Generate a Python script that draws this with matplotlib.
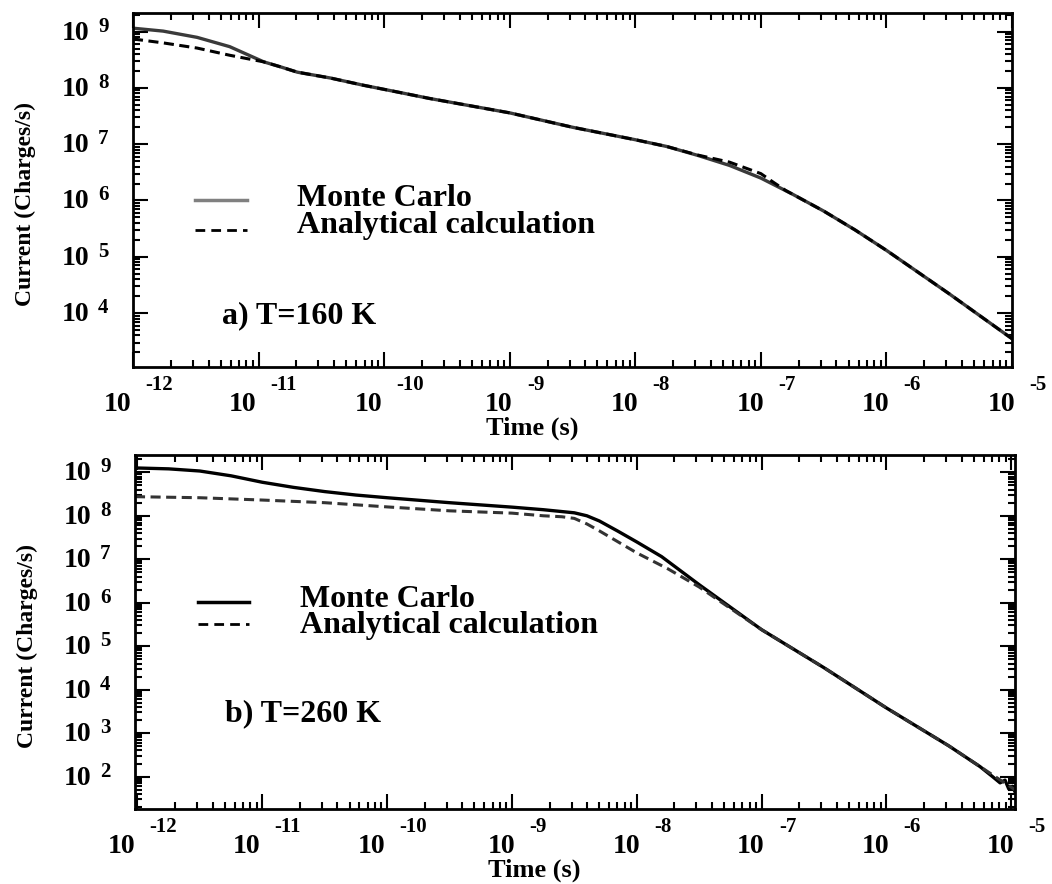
import numpy as np
import matplotlib
matplotlib.use("Agg")
from matplotlib import pyplot as plt
from matplotlib.lines import Line2D
from matplotlib.ticker import LogLocator, NullFormatter

plt.rcParams['font.family'] = ['Liberation Serif', 'DejaVu Serif']

# a) T = 160 K
t_mc_a = [1.0e-12, 1.74e-12, 3.24e-12, 5.89e-12, 1.1e-11, 1.51e-11, 2.04e-11, 3.72e-11,
          6.76e-11, 1.26e-10, 2.29e-10, 1.0e-9, 3.16e-9, 1.0e-8, 1.78e-8, 3.16e-8,
          5.62e-8, 1.0e-7, 1.78e-7, 3.16e-7, 5.62e-7, 1.0e-6, 3.16e-6, 1.0e-5]
i_mc_a = [1.15e9, 1.02e9, 7.9e8, 5.4e8, 2.9e8, 2.35e8, 1.9e8, 1.5e8,
          1.12e8, 8.5e7, 6.5e7, 3.6e7, 2.0e7, 1.2e7, 9.1e6, 6.3e6,
          4.2e6, 2.5e6, 1.3e6, 6.5e5, 3.0e5, 1.3e5, 2.2e4, 3.5e3]

t_an_a = [1.0e-12, 1.74e-12, 3.24e-12, 5.89e-12, 1.1e-11, 1.51e-11, 2.04e-11, 3.72e-11,
          6.76e-11, 1.26e-10, 2.29e-10, 1.0e-9, 3.16e-9, 1.0e-8, 1.78e-8, 3.16e-8,
          5.62e-8, 1.0e-7, 1.26e-7, 1.58e-7, 3.16e-7, 5.62e-7, 1.0e-6, 3.16e-6, 1.0e-5]
i_an_a = [7.4e8, 6.3e8, 5.1e8, 3.8e8, 2.9e8, 2.35e8, 1.9e8, 1.5e8,
          1.12e8, 8.5e7, 6.5e7, 3.6e7, 2.0e7, 1.2e7, 9.1e6, 6.4e6,
          4.8e6, 3.0e6, 2.1e6, 1.5e6, 6.5e5, 3.0e5, 1.3e5, 2.2e4, 3.5e3]

# b) T = 260 K
t_mc_b = [9.55e-13, 1.78e-12, 3.16e-12, 5.62e-12, 1.0e-11, 1.78e-11, 3.16e-11, 5.62e-11,
          1.0e-10, 3.16e-10, 1.0e-9, 1.78e-9, 3.16e-9, 3.98e-9, 5.01e-9, 7.08e-9,
          1.0e-8, 1.58e-8, 3.16e-8, 1.0e-7, 3.16e-7, 1.0e-6, 3.16e-6, 5.62e-6,
          7.08e-6, 8.13e-6, 8.91e-6, 9.55e-6, 1.02e-5, 1.07e-5]
i_mc_b = [1.26e9, 1.2e9, 1.07e9, 8.3e8, 5.9e8, 4.5e8, 3.6e8, 3.0e8,
          2.6e8, 2.0e8, 1.58e8, 1.38e8, 1.17e8, 1.0e8, 7.6e7, 4.4e7,
          2.5e7, 1.15e7, 2.6e6, 2.4e5, 3.2e4, 3.8e3, 5.1e2, 1.7e2,
          1.0e2, 72, 83, 52, 60, 45]

t_an_b = [9.55e-13, 3.16e-12, 1.0e-11, 3.16e-11, 1.0e-10, 3.16e-10, 1.0e-9, 1.78e-9,
          2.51e-9, 3.16e-9, 3.98e-9, 5.01e-9, 1.0e-8, 1.78e-8, 3.16e-8, 1.0e-7,
          3.16e-7, 1.0e-6, 3.16e-6, 1.07e-5]
i_an_b = [2.75e8, 2.6e8, 2.3e8, 2.0e8, 1.6e8, 1.3e8, 1.15e8, 1.0e8,
          9.5e7, 8.7e7, 6.5e7, 4.5e7, 1.4e7, 6.0e6, 2.3e6, 2.4e5,
          3.2e4, 3.8e3, 5.1e2, 50]

x_decades = range(-12, -4)
y_decades_a = range(4, 10)
y_decades_b = range(2, 10)

PX = 0.72  # points per pixel at dpi 100


def setup_axes(ax, xlim, ylim, ydecades):
    ax.set_xscale('log')
    ax.set_yscale('log')
    ax.set_xlim(*xlim)
    ax.set_ylim(*ylim)
    for axis in (ax.xaxis, ax.yaxis):
        axis.set_major_locator(LogLocator(base=10, numticks=100))
        axis.set_minor_locator(LogLocator(base=10, subs=np.arange(2, 10), numticks=100))
        axis.set_major_formatter(NullFormatter())
        axis.set_minor_formatter(NullFormatter())
    ax.tick_params(which='both', direction='in', top=True, right=True, width=1.5)
    ax.tick_params(which='major', length=11)
    ax.tick_params(which='minor', length=5)
    for sp in ax.spines.values():
        sp.set_linewidth(2)

    # decade labels written as "10" with a raised exponent
    for k in x_decades:
        exp = str(k)
        w_exp = 15 * (0.333 * exp.count('-') + 0.5 * (len(exp) - exp.count('-')))
        w = 20 + 10 + w_exp
        left = 5 * PX - w / 2
        ax.annotate('10', xy=(10.0 ** k, 0), xycoords=ax.get_xaxis_transform(),
                    xytext=(left, -44 * PX), textcoords='offset points',
                    ha='left', va='baseline', fontsize=20, fontweight='bold')
        ax.annotate(exp, xy=(10.0 ** k, 0), xycoords=ax.get_xaxis_transform(),
                    xytext=(left + 30, -23 * PX), textcoords='offset points',
                    ha='left', va='baseline', fontsize=15, fontweight='bold')
    for k in ydecades:
        ax.annotate('10', xy=(0, 10.0 ** k), xycoords=ax.get_yaxis_transform(),
                    xytext=(-44 * PX, -8 * PX), textcoords='offset points',
                    ha='right', va='baseline', fontsize=20, fontweight='bold')
        ax.annotate(str(k), xy=(0, 10.0 ** k), xycoords=ax.get_yaxis_transform(),
                    xytext=(-35 * PX, 0), textcoords='offset points',
                    ha='left', va='baseline', fontsize=15, fontweight='bold')

    ax.annotate('Time (s)', xy=(0.454, 0), xycoords='axes fraction',
                xytext=(0, -68 * PX), textcoords='offset points',
                ha='center', va='baseline', fontsize=19, fontweight='bold')
    ax.annotate('Current (Charges/s)', xy=(0, 0.46), xycoords='axes fraction',
                xytext=(-108 * PX, 0), textcoords='offset points',
                ha='center', va='center', rotation=90, fontsize=17,
                fontweight='bold')


def draw_key(ax, xs, y_solid, y_dash, x_text, y_mc, y_an, mc_color):
    ax.add_line(Line2D(xs, [y_solid, y_solid], transform=ax.transAxes,
                       color=mc_color, lw=2.5))
    ax.add_line(Line2D(xs, [y_dash, y_dash], transform=ax.transAxes,
                       color='black', lw=2, dashes=(3.5, 2.2)))
    ax.text(x_text, y_mc, 'Monte Carlo', transform=ax.transAxes,
            fontsize=23, fontweight='bold', va='baseline')
    ax.text(x_text, y_an, 'Analytical calculation', transform=ax.transAxes,
            fontsize=23, fontweight='bold', va='baseline')


fig = plt.figure(figsize=(10.52, 8.84), dpi=100)

ax1 = fig.add_axes([0.1264, 0.5848, 0.8356, 0.4005])
setup_axes(ax1, (1e-12, 1e-5), (1.1e3, 2.14e9), y_decades_a)
ax1.plot(t_mc_a, i_mc_a, color='#3a3a3a', lw=2.4)
ax1.plot(t_an_a, i_an_a, color='black', lw=2.2, dashes=(3.3, 1.8))
draw_key(ax1, [0.0705, 0.1297], 0.472, 0.387, 0.1866, 0.455, 0.3785, '#808080')
ax1.text(0.1013, 0.124, 'a) T=160 K', transform=ax1.transAxes,
         fontsize=23, fontweight='bold', va='baseline')

ax2 = fig.add_axes([0.1283, 0.0848, 0.8365, 0.4005])
setup_axes(ax2, (9.55e-13, 1.07e-5), (18, 2.5e9), y_decades_b)
ax2.plot(t_mc_b, i_mc_b, color='black', lw=2.4)
ax2.plot(t_an_b, i_an_b, color='#333333', lw=2.2, dashes=(3.3, 1.8))
draw_key(ax2, [0.0716, 0.1295], 0.585, 0.523, 0.1875, 0.571, 0.497, 'black')
ax2.text(0.1023, 0.249, 'b) T=260 K', transform=ax2.transAxes,
         fontsize=23, fontweight='bold', va='baseline')

fig.savefig('out.png', dpi=100)
